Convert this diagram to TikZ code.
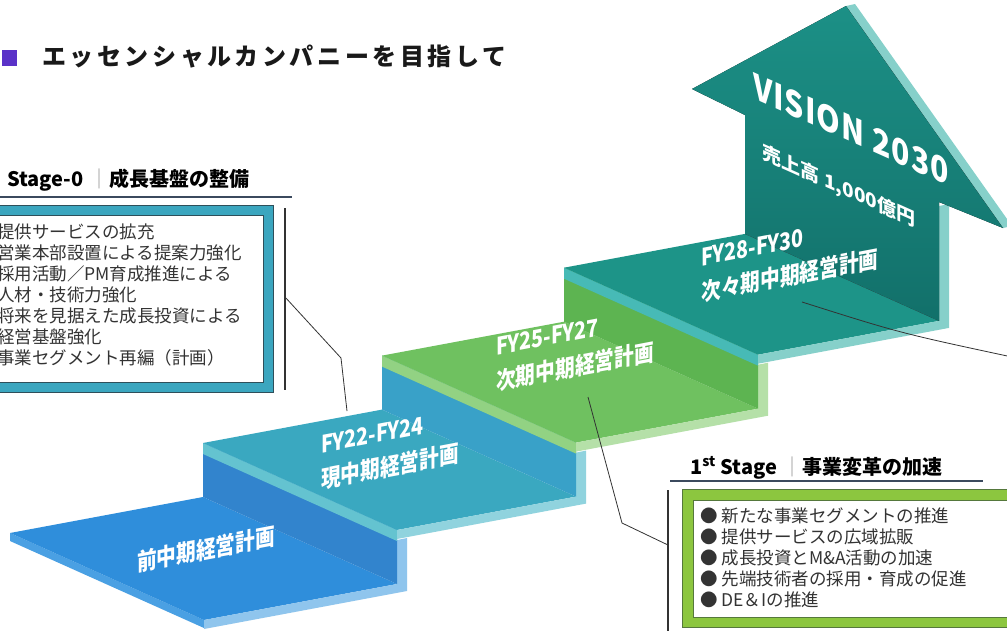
\documentclass[tikz,border=0pt]{standalone}
\usepackage{fontspec}
\usetikzlibrary{calc}
\setmainfont{Noto Sans CJK JP}
\newfontfamily\condfont{Noto Sans CJK JP}[FakeStretch=0.82]
\newfontfamily\visfont{Noto Sans CJK JP}[FakeStretch=0.86,LetterSpace=3]
\newfontfamily\titlefont{Noto Sans CJK JP}[LetterSpace=15]
\definecolor{purp}{HTML}{5A32C8}
\definecolor{navy}{HTML}{3B4A5E}
\definecolor{linegray}{HTML}{333333}
\definecolor{txt}{HTML}{333333}
\definecolor{bargray}{HTML}{9A9A9A}
\definecolor{sAtop}{HTML}{2F8EDB}
\definecolor{sAband}{HTML}{4AA0E3}
\definecolor{sAfront}{HTML}{8FC5ED}
\definecolor{riserB}{HTML}{3284CD}
\definecolor{sBtop}{HTML}{3AA8C0}
\definecolor{sBband}{HTML}{64C3D0}
\definecolor{sBfront}{HTML}{90D3DE}
\definecolor{riserC}{HTML}{39A1C8}
\definecolor{sCtop}{HTML}{6FC160}
\definecolor{sCband}{HTML}{92D283}
\definecolor{sCfront}{HTML}{B5E0A8}
\definecolor{riserD}{HTML}{5DB451}
\definecolor{sDtop}{HTML}{1D9488}
\definecolor{sDband}{HTML}{47BAB6}
\definecolor{sDfront}{HTML}{86D0CA}
\definecolor{shaftTop}{HTML}{1C9086}
\definecolor{shaftBot}{HTML}{12706A}
\definecolor{boxteal}{HTML}{3BA6BF}
\definecolor{boxtealdk}{HTML}{2E4F5A}
\definecolor{boxgreen}{HTML}{8CC63F}
\definecolor{boxgreendk}{HTML}{55783C}
\begin{document}
\begin{tikzpicture}[x=1pt,y=-1pt,
  conn/.style={draw=linegray, line width=0.8pt},
  vline/.style={draw=linegray, line width=1.1pt},
  uline/.style={draw=navy, line width=1.4pt},
  steplab/.style={text=white, font=\condfont\bfseries\fontsize{24}{35}\selectfont, align=left, inner sep=0pt, yslant=0.19},
  arrowlab/.style={text=white, inner sep=0pt, yslant=-0.448},
  boxtext/.style={text=txt, font=\fontsize{17.5}{21}\selectfont, align=left, inner sep=0pt, anchor=north west},
  header/.style={text=black, font=\bfseries\fontsize{20}{24}\selectfont, inner sep=0pt, anchor=base west}
]
\useasboundingbox (0,0) rectangle (1007,630);
\fill[white] (0,0) rectangle (1007,630);

% ---------- geometry ----------
\coordinate (L1) at (10,533);   \coordinate (R1) at (203,497);
\coordinate (F1) at (204,620);  \coordinate (FR1) at (397,584);
\coordinate (L2) at (203,443);  \coordinate (R2) at (382,409.6);
\coordinate (F2) at (397,530);  \coordinate (FR2) at (576,496.6);
\coordinate (L3) at (382,355.6);\coordinate (R3) at (564,321.7);
\coordinate (F3) at (576,442.6);\coordinate (FR3) at (758,408.7);
\coordinate (L4) at (564,267.7);\coordinate (R4) at (745,233.9);
\coordinate (F4) at (758,354.7);\coordinate (FR4) at (939,320.9);
\coordinate (S1) at (745,115);  \coordinate (S2) at (939,202);
\coordinate (AL) at (692,89);   \coordinate (T) at (846,6);
\coordinate (AR) at (1003,228);

% ---------- step 1 ----------
\fill[sAband] (L1) -- (F1) -- ($(F1)+(0,8)$) -- ($(L1)+(0,8)$) -- cycle;
\fill[sAtop] (L1) -- (R1) -- (FR1) -- (F1) -- cycle;
\fill[sAfront] (F1) -- (FR1) -- ($(F2)+(0,10)$) -- ($(F2)+(10,8)$) -- ($(FR1)+(10,7)$) -- ($(F1)+(0,9)$) -- cycle;
\fill[riserB] (R1) -- (FR1) -- (F2) -- (L2) -- cycle;
% ---------- step 2 ----------
\fill[sBband] (L2) -- (F2) -- ($(F2)+(0,11)$) -- ($(L2)+(0,11)$) -- cycle;
\fill[sBtop] (L2) -- (R2) -- (FR2) -- (F2) -- cycle;
\fill[sBfront] (F2) -- (FR2) -- ($(F3)+(0,10)$) -- ($(F3)+(10,8)$) -- ($(FR2)+(10,7)$) -- ($(F2)+(0,9)$) -- cycle;
\fill[riserC] (R2) -- (FR2) -- (F3) -- (L3) -- cycle;
% ---------- step 3 ----------
\fill[sCband] (L3) -- (F3) -- ($(F3)+(0,11)$) -- ($(L3)+(0,11)$) -- cycle;
\fill[sCtop] (L3) -- (R3) -- (FR3) -- (F3) -- cycle;
\fill[sCfront] (F3) -- (FR3) -- ($(F4)+(0,10)$) -- ($(F4)+(10,8)$) -- ($(FR3)+(10,7)$) -- ($(F3)+(0,9)$) -- cycle;
\fill[riserD] (R3) -- (FR3) -- (F4) -- (L4) -- cycle;
% ---------- step 4 ----------
\fill[sDband] (L4) -- (F4) -- ($(F4)+(0,11)$) -- ($(L4)+(0,11)$) -- cycle;
\fill[sDtop] (L4) -- (R4) -- (FR4) -- (F4) -- cycle;
\fill[sDfront] (F4) -- (FR4) -- ($(S2)+(0,4)$) -- ($(S2)+(10,2)$) -- ($(FR4)+(10,7)$) -- ($(F4)+(0,9)$) -- cycle;
% ---------- arrow ----------
\fill[sDfront] (T) -- (AR) -- ($(AR)+(9,-2)$) -- ($(T)+(9,-2)$) -- cycle;
\fill[top color=shaftTop, bottom color=shaftBot] (R4) -- (S1) -- (AL) -- (T) -- (AR) -- (S2) -- (FR4) -- cycle;

% ---------- step labels ----------
\node[steplab] (lab1) at (206,549) {前中期経営計画};
\node[steplab] (lab2) at (390,450) {FY22-FY24\\現中期経営計画};
\node[steplab] (lab3) at (575,350) {FY25-FY27\\次期中期経営計画};
\node[steplab] (lab4) at (790,259) {FY28-FY30\\次々期中期経営計画};
\node[arrowlab, font=\visfont\bfseries\fontsize{35}{35}\selectfont] (vis) at (851,129) {VISION 2030};
\node[arrowlab, font=\bfseries\fontsize{19}{19}\selectfont] (sales) at (839,187) {売上高 1,000億円};

% ---------- title ----------
\fill[purp] (2,50) rectangle (17,66);
\node[anchor=west, inner sep=0pt, font=\titlefont\bfseries\fontsize{24}{28}\selectfont, text=black!90] (title) at (42,57) {エッセンシャルカンパニーを目指して};

% ---------- Stage-0 box ----------
\node[header] (h0) at (7,186) {Stage-0\hspace{6pt}\textcolor{bargray}{\mdseries ｜}成長基盤の整備};
\coordinate (u0a) at (0,197); \coordinate (u0b) at (292,197);
\draw[uline] (u0a) -- (u0b);
\filldraw[fill=boxteal, draw=boxtealdk, line width=0.8pt] (-20,205) rectangle (273,392);
\filldraw[fill=white, draw=boxtealdk, line width=0.4pt] (-20,215) rectangle (263,382);
\node[boxtext] (t0) at (-3,224) {提供サービスの拡充\\営業本部設置による提案力強化\\採用活動／PM育成推進による\\人材・技術力強化\\将来を見据えた成長投資による\\経営基盤強化\\事業セグメント再編（計画）};
\coordinate (v0a) at (285,208); \coordinate (v0b) at (285,390);
\draw[vline] (v0a) -- (v0b);
\coordinate (c1a) at (285,297); \coordinate (c1b) at (341,358); \coordinate (c1c) at (347,411);
\draw[conn] (c1a) -- (c1b) -- (c1c);

% ---------- 1st Stage box ----------
\node[header] (h1) at (690,474) {1\textsuperscript{st} Stage\hspace{6pt}\textcolor{bargray}{\mdseries ｜}事業変革の加速};
\coordinate (u1a) at (670,481); \coordinate (u1b) at (983,481);
\draw[uline] (u1a) -- (u1b);
\filldraw[fill=boxgreen, draw=boxgreendk, line width=0.8pt] (682,489) rectangle (1030,627);
\filldraw[fill=white, draw=boxgreendk, line width=0.4pt] (693,500) rectangle (1030,617);
\node[boxtext] (t1) at (700,508) {● 新たな事業セグメントの推進\\● 提供サービスの広域拡販\\● 成長投資とM\&A活動の加速\\● 先端技術者の採用・育成の促進\\● DE＆Iの推進};
\coordinate (v1a) at (668,490); \coordinate (v1b) at (668,640);
\draw[vline] (v1a) -- (v1b);
\coordinate (c2a) at (588,397); \coordinate (c2b) at (622,523); \coordinate (c2c) at (668,545);
\draw[conn] (c2a) -- (c2b) -- (c2c);

% ---------- connector to the right ----------
\coordinate (c3a) at (802,302); \coordinate (c3end) at (1012,357);
\draw[conn] (c3a) .. controls (900,333) .. (c3end);
\end{tikzpicture}
\end{document}
